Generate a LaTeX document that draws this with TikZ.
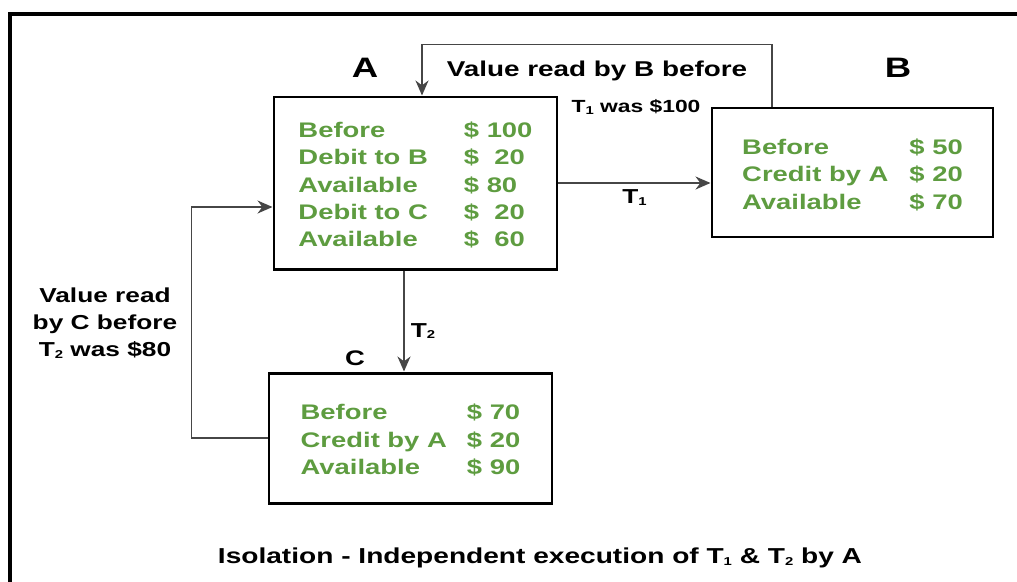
\documentclass[tikz,border=0pt]{standalone}
\usepackage{fontspec}
\setmainfont{Liberation Sans}[FakeStretch=1.3]
\usepackage{xcolor}
\usepackage{tikz}
\usetikzlibrary{arrows.meta,positioning}

\definecolor{accgreen}{RGB}{94,156,64}
\definecolor{linkgray}{RGB}{70,70,70}

% small transaction index, T1 / T2
\newcommand{\txn}[1]{T\raisebox{-0.15ex}{\fontsize{6.5}{7}\selectfont #1}}
\newcommand{\toprow}{\rule{0pt}{0.53cm}}

\tikzset{
	acct/.style={draw, line width=1.7pt, minimum width=5.66cm, text=accgreen,
		font=\fontsize{12}{15.6}\selectfont\bfseries},
	link/.style={draw=linkgray, line width=1.1pt, -{Stealth[length=0.3cm,width=0.26cm]}},
	tag/.style={text=black, font=\fontsize{11.5}{15.4}\selectfont\bfseries},
	owner/.style={text=black, font=\fontsize{16}{19}\selectfont\bfseries},
}

\begin{document}
\begin{tikzpicture}
			\useasboundingbox (-8.31,3.66) rectangle (12.03,-7.96);
			%frame
			\coordinate (fbot) at (-8.11,-8.2);
			\coordinate (fright) at (12.3,3.38);
			\draw[line width=2.8pt] (fbot) |- (fright);
			
			\node[acct, minimum height=3.44cm] (A) at (0,0) {%
				\begin{tabular}{@{}l@{\hspace{0.72cm}}l@{}}
					\toprow Before & \$ 100\\
					Debit to B & \$\ \ 20\\
					Available & \$ 80\\
					Debit to C & \$\ \ 20\\
					Available & \$\ \ 60
				\end{tabular}};
			\node[owner, above of=A, xshift=-1.01cm, yshift=1.3cm] (nameA) {A};
			
			\node[acct, right of=A, xshift=7.74cm, yshift=0.21cm, minimum width=5.62cm, minimum height=2.58cm] (B) {%
				\begin{tabular}{@{}l@{\hspace{0.42cm}}l@{}}
					\toprow Before & \$ 50\\
					Credit by A & \$ 20\\
					Available & \$ 70
				\end{tabular}};
			\node[owner, above of=B, xshift=0.91cm, yshift=1.09cm] (nameB) {B};
			
			\node[acct, below of=A, xshift=-0.1cm, yshift=-4.1cm, minimum height=2.6cm] (C) {%
				\begin{tabular}{@{}l@{\hspace{0.4cm}}l@{}}
					\toprow Before & \$ 70\\
					Credit by A & \$ 20\\
					Available & \$ 90
				\end{tabular}};
			\node[tag, font=\fontsize{12}{14}\selectfont\bfseries, above of=C, xshift=-1.11cm, yshift=0.6cm] (nameC) {C};
			
			%T1 and T2
			\draw[link] (A.east) -- (A.east -| B.west) node[midway, below, tag] (tOne) {\txn{1}};
			\coordinate (aDown) at ([xshift=-0.23cm]A.south);
			\draw[link] (aDown) -- (aDown |- C.north) node[pos=0.6, right, tag] (tTwo) {\txn{2}};
			
			%read by B
			\coordinate (bUp) at ([xshift=-1.61cm]B.north);
			\coordinate (aIn) at ([xshift=0.13cm]A.north);
			\draw[link] (bUp) |- ([yshift=1.02cm]aIn) node[pos=0.75, below=0.19cm, tag, font=\fontsize{12.2}{15}\selectfont\bfseries] (readB) {Value read by B before} -- (aIn);
			\node[tag, font=\fontsize{10}{12}\selectfont\bfseries, below of=readB, xshift=0.78cm, yshift=0.28cm] (readBval) {\txn{1} was \$100};
			
			%read by C
			\draw[link] (C.west) -- ++(-1.52,0) |- ([yshift=-0.48cm]A.west);
			\node[tag, align=center, left of=C, xshift=-5.11cm, yshift=2.3cm] (readC) {Value read\\by C before\\\txn{2} was \$80};
			
			\node[tag, font=\fontsize{12.3}{14}\selectfont\bfseries, below of=C, xshift=2.59cm, yshift=-1.4cm] (caption) {Isolation - Independent execution of \txn{1} \& \txn{2} by A};
\end{tikzpicture}
\end{document}
